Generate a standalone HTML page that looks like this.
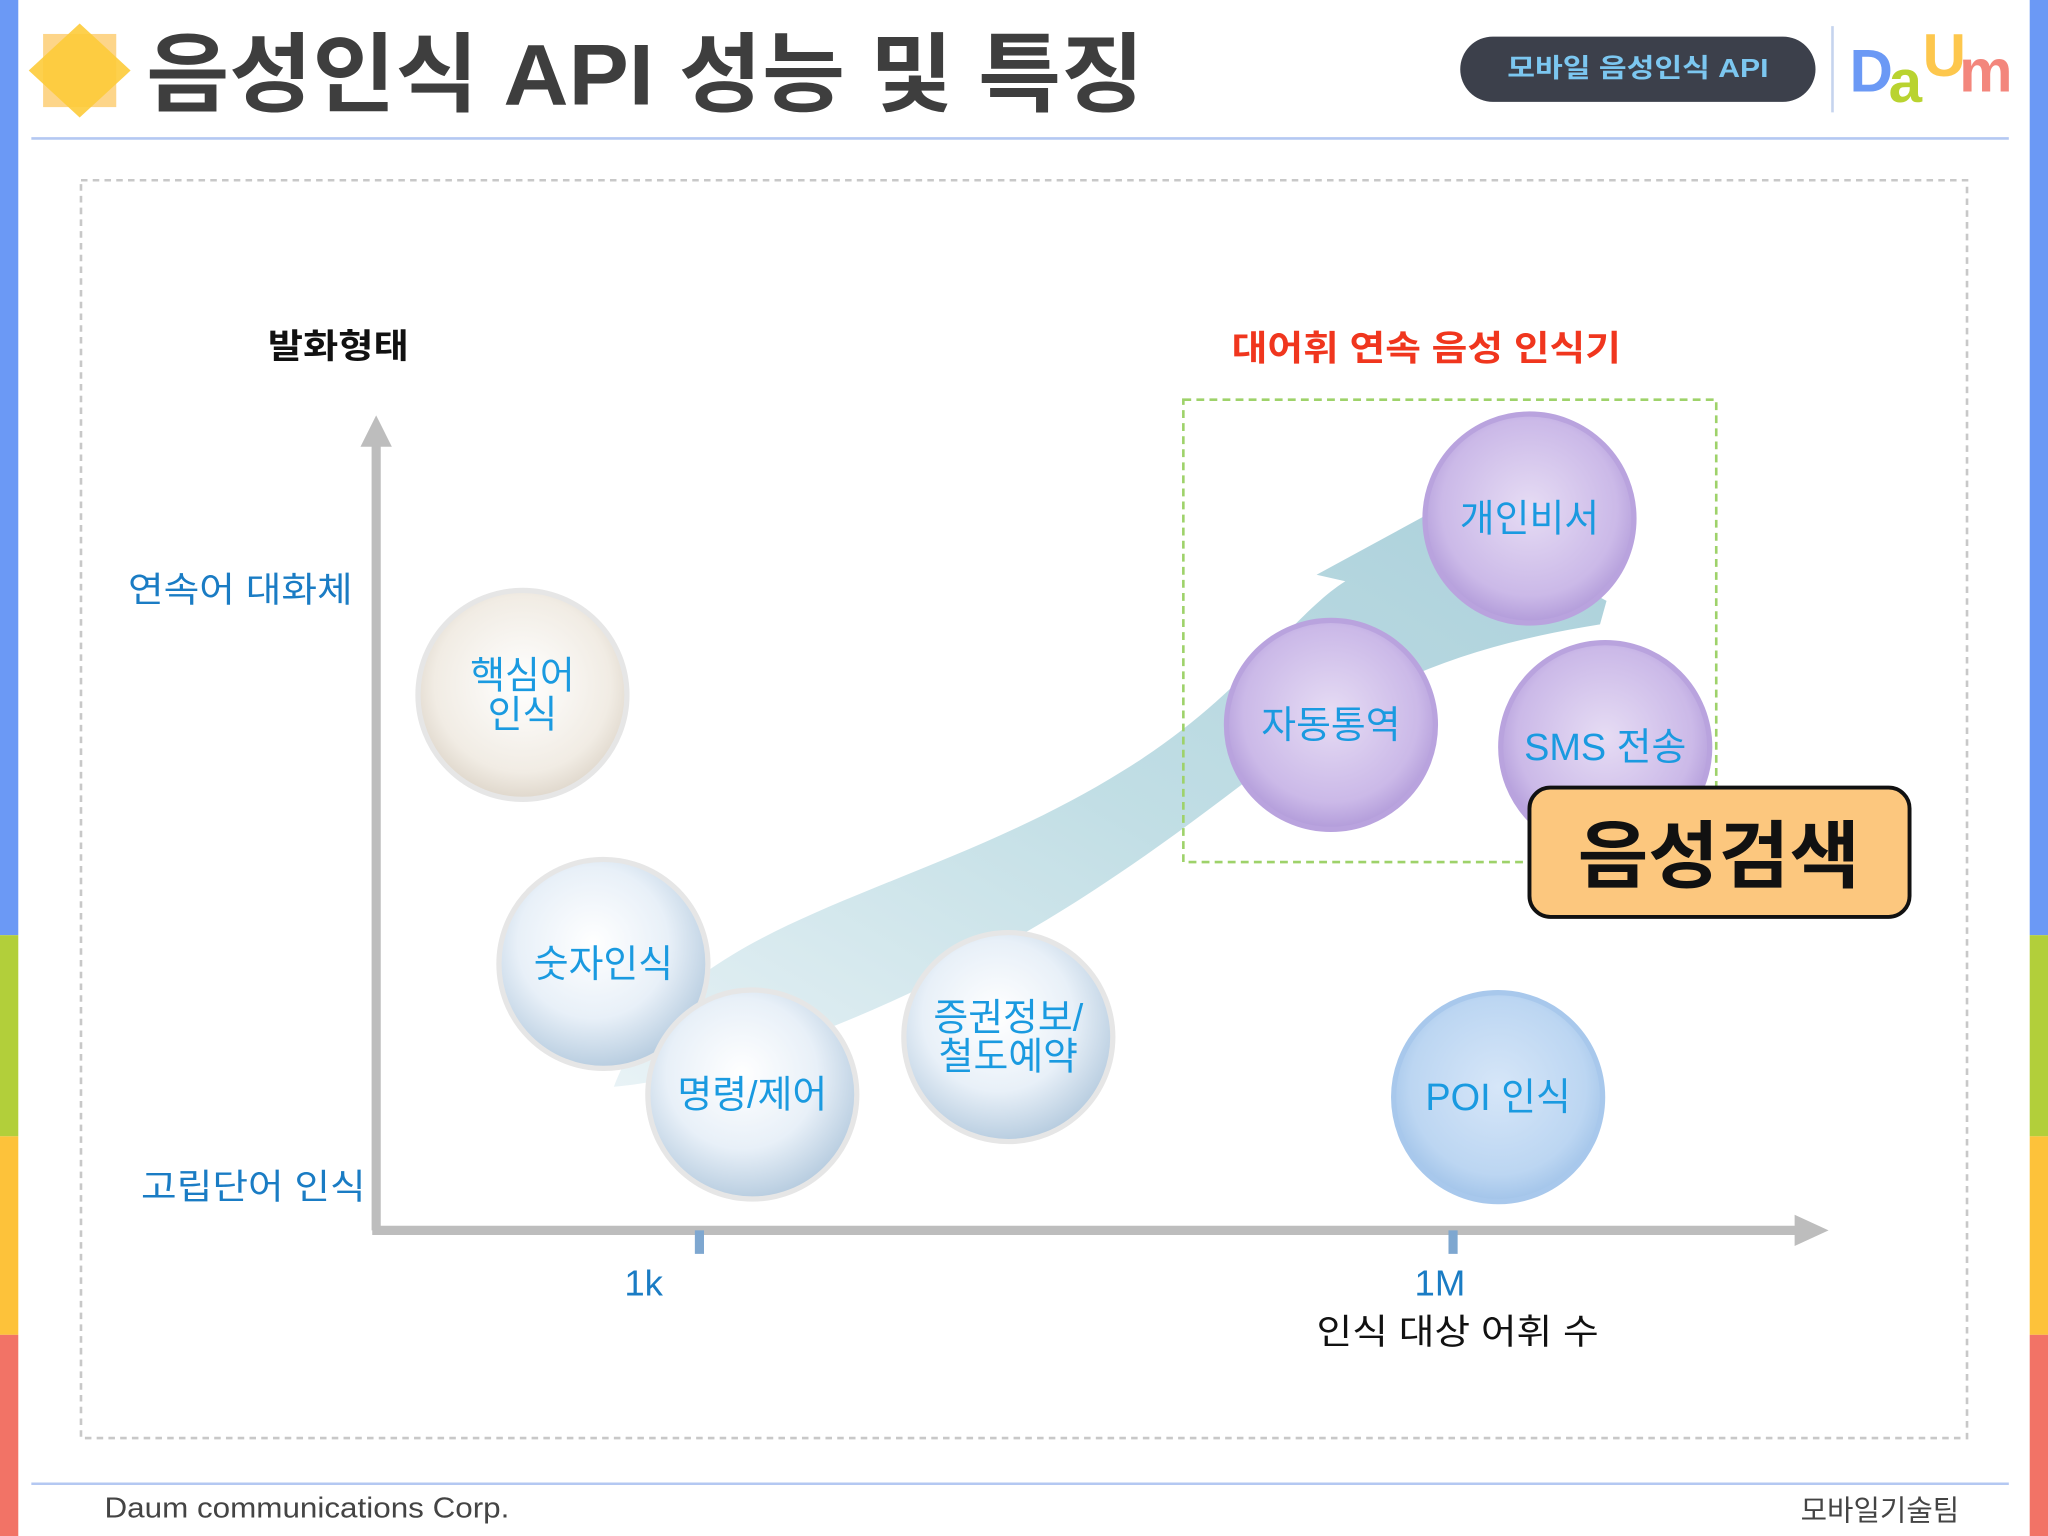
<!DOCTYPE html>
<html><head><meta charset="utf-8"><style>
html,body{margin:0;padding:0;background:#fff}
svg{display:block}
text{font-family:"Liberation Sans","Noto Sans CJK KR",sans-serif}
</style></head><body>
<svg width="2048" height="1536" viewBox="0 0 1568 1176" xmlns="http://www.w3.org/2000/svg">
<defs>
<radialGradient id="gBlue" cx="45%" cy="40%" r="60%"><stop offset="0" stop-color="#ffffff"/><stop offset="0.6" stop-color="#e8f0f8"/><stop offset="1" stop-color="#b8cde0"/></radialGradient>
<radialGradient id="gPurple" cx="50%" cy="45%" r="60%"><stop offset="0" stop-color="#e6dcf4"/><stop offset="0.7" stop-color="#cbb9e8"/><stop offset="1" stop-color="#a890d4"/></radialGradient>
<radialGradient id="gTan" cx="50%" cy="45%" r="60%"><stop offset="0" stop-color="#ffffff"/><stop offset="0.7" stop-color="#f1ece4"/><stop offset="1" stop-color="#d8cfc2"/></radialGradient>
<radialGradient id="gPoi" cx="50%" cy="45%" r="60%"><stop offset="0" stop-color="#d6e6f8"/><stop offset="0.7" stop-color="#bcd6f2"/><stop offset="1" stop-color="#98bde6"/></radialGradient>
<linearGradient id="gArrow" x1="0" y1="1" x2="1" y2="0"><stop offset="0" stop-color="#e4f0f4"/><stop offset="0.5" stop-color="#b6d8e0"/><stop offset="1" stop-color="#9cc8d4"/></linearGradient>
</defs>
<g>
<rect x="0" y="0" width="14" height="716" fill="#6b99f5"/><rect x="0" y="716" width="14" height="154" fill="#b2cf3a"/><rect x="0" y="870" width="14" height="152" fill="#fdc23a"/><rect x="0" y="1022" width="14" height="154" fill="#f27366"/>
</g>
<g>
<rect x="1554" y="0" width="14" height="716" fill="#6b99f5"/><rect x="1554" y="716" width="14" height="154" fill="#b2cf3a"/><rect x="1554" y="870" width="14" height="152" fill="#fdc23a"/><rect x="1554" y="1022" width="14" height="154" fill="#f27366"/>
</g>
<g>
<rect x="33" y="26" width="56" height="56" fill="#fbb93a" opacity="0.6"/>
<polygon points="61,18 100,54 61,90 22,54" fill="#fdcb3a" opacity="0.9"/>
</g>
<text x="112" y="80" font-size="66" font-weight="bold" fill="#3e3e3e" textLength="764" lengthAdjust="spacingAndGlyphs">음성인식 API 성능 및 특징</text>
<rect x="1118" y="28" width="272" height="50" rx="25" fill="#3c404b"/>
<text x="1254" y="59" text-anchor="middle" font-size="20" font-weight="bold" fill="#7cc7f0" textLength="200" lengthAdjust="spacingAndGlyphs">모바일 음성인식 API</text>
<line x1="1403" y1="20" x2="1403" y2="86" stroke="#c6d4ee" stroke-width="2"/>
<g font-weight="bold" font-size="46">
<text x="1416" y="70" fill="#6b99f5">D</text>
<text x="1446" y="78" fill="#b2cf1a" opacity="0.9">a</text>
<text x="1472" y="58" fill="#fdc23a" opacity="0.9">U</text>
<text x="1500" y="70" fill="#f27a6e" opacity="0.9">m</text>
</g>
<line x1="24" y1="106" x2="1538" y2="106" stroke="#b4c8f2" stroke-width="2"/>
<rect x="62" y="138" width="1444" height="963" fill="none" stroke="#c8c8c8" stroke-width="2" stroke-dasharray="5,4"/>
<path d="M470,832 C520,700 700,690 860,590 C950,535 990,470 1030,445 L1008,440 L1100,390 L1230,460 L1225,478 C1150,490 1080,510 1010,555 C900,640 800,720 640,785 C580,808 520,828 470,832 Z" fill="url(#gArrow)" opacity="0.85"/>
<g>
<line x1="288" y1="942" x2="288" y2="335" stroke="#bdbdbd" stroke-width="7"/>
<polygon points="288,318 276,342 300,342" fill="#bdbdbd"/>
<line x1="285" y1="942" x2="1380" y2="942" stroke="#bdbdbd" stroke-width="7"/>
<polygon points="1400,942 1374,930 1374,954" fill="#bdbdbd"/>
<rect x="532" y="942" width="7" height="18" fill="#7ea7d0"/>
<rect x="1109" y="942" width="7" height="18" fill="#7ea7d0"/>
</g>
<text x="205" y="274" font-size="26" font-weight="bold" fill="#111" textLength="108" lengthAdjust="spacingAndGlyphs">발화형태</text>
<text x="98" y="461" font-size="27" fill="#1a7cc4" textLength="172" lengthAdjust="spacingAndGlyphs">연속어 대화체</text>
<text x="108" y="918" font-size="27" fill="#1a7cc4" textLength="172" lengthAdjust="spacingAndGlyphs">고립단어 인식</text>
<text x="478" y="992" font-size="28" fill="#1a7cc4">1k</text>
<text x="1083" y="992" font-size="28" fill="#1a7cc4">1M</text>
<text x="1008" y="1029" font-size="27" fill="#111" textLength="216" lengthAdjust="spacingAndGlyphs">인식 대상 어휘 수</text>
<text x="943" y="276" font-size="27" font-weight="bold" fill="#f0361e" textLength="298" lengthAdjust="spacingAndGlyphs">대어휘 연속 음성 인식기</text>
<rect x="906" y="306" width="408" height="354" fill="none" stroke="#9ed26a" stroke-width="2" stroke-dasharray="6,4"/>
<g id="bubbles"></g>
<rect x="1171" y="603" width="291" height="99" rx="16" fill="#fcc77e" stroke="#111" stroke-width="3"/>
<text x="1316" y="675" text-anchor="middle" font-size="56" font-weight="bold" fill="#111" textLength="216" lengthAdjust="spacingAndGlyphs">음성검색</text>
<line x1="24" y1="1136" x2="1538" y2="1136" stroke="#b4c8f2" stroke-width="2"/>
<text x="80" y="1162" font-size="22" fill="#444" textLength="310" lengthAdjust="spacingAndGlyphs">Daum communications Corp.</text>
<text x="1500" y="1164" text-anchor="end" font-size="22" fill="#444">모바일기술팀</text>
</svg>
<script>
const bubbleNames = [["핵심어","인식"],["숫자인식"],["명령/제어"],["증권정보/","철도예약"],["POI 인식"],["자동통역"],["SMS 전송"],["개인비서"]];
const bubbleX = [400,462,576,772,1147,1019,1229,1171];
const bubbleY = [532,738,838,794,840,555,572,397];
const bubbleFill = ["gTan","gBlue","gBlue","gBlue","gPoi","gPurple","gPurple","gPurple"];
const ns = "http://www.w3.org/2000/svg";
const g = document.getElementById('bubbles');
const R = 80;
bubbleNames.forEach((lines,i)=>{
  const grp = document.createElementNS(ns,'g');
  
  
  const c = document.createElementNS(ns,'circle');
  c.setAttribute('cx',bubbleX[i]);c.setAttribute('cy',bubbleY[i]);c.setAttribute('r',R);
  c.setAttribute('fill','url(#'+bubbleFill[i]+')');
  c.setAttribute('stroke', bubbleFill[i]==='gPurple' ? '#b9a3de' : (bubbleFill[i]==='gPoi' ? '#a8c8ec' : '#e6e6e6'));
  c.setAttribute('stroke-width','4');
  grp.appendChild(c);
  const lh = 30, y0 = bubbleY[i] - (lines.length-1)*lh/2 + 10;
  lines.forEach((s,k)=>{
    const t = document.createElementNS(ns,'text');
    t.setAttribute('x',bubbleX[i]);t.setAttribute('y',y0+k*lh);
    t.setAttribute('text-anchor','middle');t.setAttribute('font-size','29');
    t.setAttribute('fill','#1a9ae0');
    t.textContent = s;
    grp.appendChild(t);
  });
  g.appendChild(grp);
});
</script>
</body></html>
